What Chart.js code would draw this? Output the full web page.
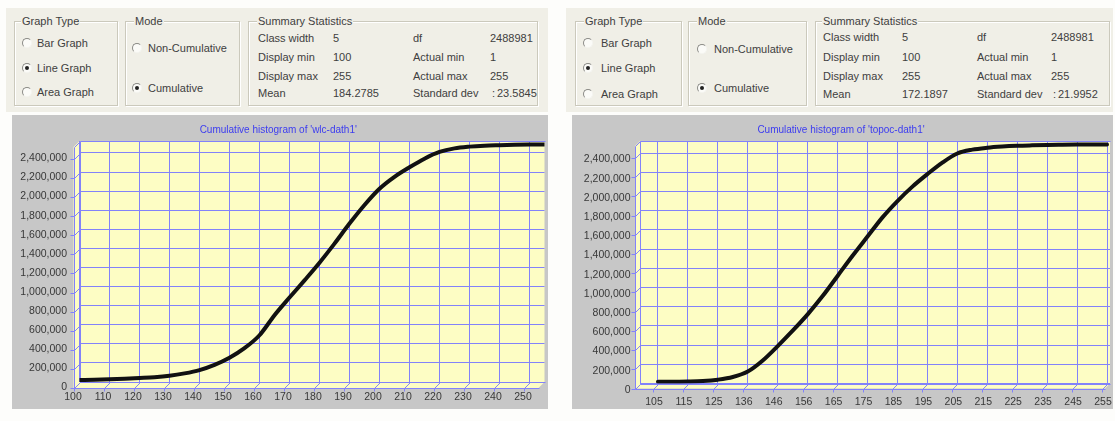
<!DOCTYPE html>
<html>
<head>
<meta charset="utf-8">
<script src="https://cdn.jsdelivr.net/npm/chart.js@4.4.1/dist/chart.umd.min.js"></script>
<style>
  body { margin:0; width:1115px; height:421px; background:#fdfdfb; position:relative; overflow:hidden;
         font-family:"Liberation Sans", Arial, sans-serif; font-size:11px; color:#404040; }
  .panel { position:absolute; top:8px; height:104px; background:#f0efe7; }
  .box { position:absolute; top:21px; height:85px; box-sizing:border-box;
         border:1px solid #cbc9bc; box-shadow: inset 1px 1px 0 #fff, 1px 1px 0 #fff; }
  .t { position:absolute; white-space:nowrap; line-height:13px; }
  .cap { background:#f0efe7; padding:0 1px; }
  .r { position:absolute; width:10px; height:10px; box-sizing:border-box; border-radius:50%;
       border:1px solid; border-color:#8a8a86 #f4f4f0 #f4f4f0 #8a8a86; background:#fbfbf8; }
  .r.on::after { content:""; position:absolute; left:2px; top:2px; width:4px; height:4px; border-radius:50%; background:#222; }
  canvas { position:absolute; }
</style>
</head>
<body>
<canvas id="cLeft" width="536" height="294" style="left:12px;top:115px"></canvas>
<canvas id="cRight" width="541" height="294" style="left:572px;top:115px"></canvas>
<script>
// Cumulative counts per 5-unit class, read at the class values
const leftBins = [100,105,110,115,120,125,130,135,140,145,150,155,160,165,170,175,
                  180,185,190,195,200,205,210,215,220,225,230,235,240,245,250,255];
const leftCumulative = [20000,24000,29000,35000,42000,50000,65000,90000,125000,180000,255000,355000,
                        490000,700000,885000,1065000,1250000,1450000,1660000,1855000,2025000,2150000,
                        2250000,2340000,2410000,2448000,2466000,2476000,2481000,2485000,2487500,2488981];

const rightBins = [105,110,115,120,125,130,135,140,145,150,155,160,165,170,175,180,
                   185,190,195,200,205,210,215,220,225,230,235,240,245,250,255];
const rightCumulative = [18000,19000,21000,26000,40000,68000,125000,240000,390000,550000,720000,910000,
                         1120000,1330000,1530000,1730000,1900000,2050000,2180000,2300000,2395000,2435000,
                         2455000,2467000,2475000,2480000,2484000,2486000,2487500,2488500,2488981];

// Axis ticks and their printed labels
const leftXTicks = [100,110,120,130,140,150,160,170,180,190,200,210,220,230,240,250];
const leftXLabels = ['100','110','120','130','140','150','160','170','180','190','200','210','220','230','240','250'];
const rightXTicks = [105,115,125,135,145,155,165,175,185,195,205,215,225,235,245,255];
const rightXLabels = ['105','115','125','136','146','156','165','175','185','195','205','215','225','235','245','255'];
const yTicks = [0,200000,400000,600000,800000,1000000,1200000,1400000,1600000,1800000,2000000,2200000,2400000];
const yLabels = ['0','200,000','400,000','600,000','800,000','1,000,000','1,200,000','1,400,000',
                 '1,600,000','1,800,000','2,000,000','2,200,000','2,400,000'];

// Summary statistics shown above each chart
const statNames = [['Class width','df'],['Display min','Actual min'],['Display max','Actual max'],['Mean','Standard dev']];
const leftStats = [['5','2488981'],['100','1'],['255','255'],['184.2785','23.5845']];
const rightStats = [['5','2488981'],['100','1'],['255','255'],['172.1897','21.9952']];

// ---- dialog controls ----
function el(cls, x, y, txt) {
  const d = document.createElement('div');
  d.className = cls;
  d.style.left = x + 'px';
  d.style.top = y + 'px';
  if (txt !== undefined) d.textContent = txt;
  document.body.appendChild(d);
  return d;
}
function box(x, w) { const b = el('box', x, 21); b.style.width = w + 'px'; }
function label(x, cy, txt, cap) { el(cap ? 't cap' : 't', x, cy - 6.5, txt); }
function radio(cx, cy, on) { el(on ? 'r on' : 'r', cx - 5, cy - 5); }

function controls(p) {
  const pn = el('panel', p.panel[0], 8); pn.style.width = p.panel[1] + 'px';
  box(p.gt[0], p.gt[1]); box(p.md[0], p.md[1]); box(p.ss[0], p.ss[1]);
  label(p.gtCap, 21.5, 'Graph Type', true);
  label(p.mdCap, 21.5, 'Mode', true);
  label(p.ssCap, 21.5, 'Summary Statistics', true);
  ['Bar Graph','Line Graph','Area Graph'].forEach((t, i) => {
    radio(p.gtRadio, p.gtRows[i], i === 1);
    label(p.gtText, p.gtRows[i], t);
  });
  ['Non-Cumulative','Cumulative'].forEach((t, i) => {
    radio(p.mdRadio, p.mdRows[i], i === 1);
    label(p.mdText, p.mdRows[i], t);
  });
  statNames.forEach((names, i) => {
    const cy = p.ssRows[i];
    label(p.cols[0], cy, names[0]);
    label(p.cols[1], cy, p.stats[i][0]);
    label(p.cols[2], cy, names[1]);
    if (i === 3) { label(p.cols[3] + 2, cy, ':'); label(p.cols[3] + 7, cy, p.stats[i][1]); }
    else label(p.cols[3], cy, p.stats[i][1]);
  });
}

controls({ panel:[6,542], gt:[14,104], md:[125,115], ss:[248,290],
  gtCap:21, mdCap:134, ssCap:257,
  gtRadio:27, gtText:37, gtRows:[43,68,92],
  mdRadio:137, mdText:148, mdRows:[48,88],
  ssRows:[38,57,76,93.5], cols:[258,333,413,490], stats:leftStats });

controls({ panel:[566,547], gt:[575,107], md:[688,119], ss:[815,295],
  gtCap:584, mdCap:697, ssCap:822,
  gtRadio:588, gtText:601, gtRows:[43,68,94],
  mdRadio:702, mdText:714, mdRows:[49,88],
  ssRows:[37,57,76,94], cols:[823,902,977,1051], stats:rightStats });

// ---- charts ----
const GRID = 'rgb(130,130,250)';
const WALL = '#fdfdc4';

// Gray frame, yellow back wall, and the shallow side/floor that give the plot its depth
const depthPlugin = {
  id: 'depth',
  beforeDraw(chart, args, o) {
    const { ctx, chartArea: a, width, height } = chart;
    const d = o.depth;
    ctx.save();
    ctx.fillStyle = '#c7c7c7';
    ctx.fillRect(0, 0, width, height);
    ctx.fillStyle = WALL;
    ctx.fillRect(a.left, a.top, a.width, a.height);
    ctx.beginPath();
    ctx.moveTo(a.left - d, a.top + d);
    ctx.lineTo(a.left, a.top);
    ctx.lineTo(a.left, a.bottom);
    ctx.lineTo(a.right, a.bottom);
    ctx.lineTo(a.right - d, a.bottom + d);
    ctx.lineTo(a.left - d, a.bottom + d);
    ctx.closePath();
    ctx.fill();
    ctx.restore();
  },
  beforeDatasetsDraw(chart, args, o) {
    const { ctx, chartArea: a, scales } = chart;
    const d = o.depth;
    const L = Math.round(a.left) + 0.5, R = Math.round(a.right) + 0.5;
    const T = Math.round(a.top) + 0.5, B = Math.round(a.bottom) + 0.5;
    ctx.save();
    ctx.strokeStyle = GRID;
    ctx.lineWidth = 1;
    ctx.beginPath();
    // back wall outline
    ctx.moveTo(L, B); ctx.lineTo(L, T); ctx.lineTo(R, T);
    ctx.moveTo(L, B); ctx.lineTo(R, B);
    // front edges
    ctx.moveTo(L - d, T + d); ctx.lineTo(L, T);
    ctx.moveTo(L - d, T + d); ctx.lineTo(L - d, B + d); ctx.lineTo(R - d, B + d);
    // grid lines carried across the side wall, plus tick marks
    scales.y.ticks.forEach(t => {
      const py = Math.round(scales.y.getPixelForValue(t.value)) + 0.5;
      ctx.moveTo(L, py); ctx.lineTo(L - d, py + d); ctx.lineTo(L - d - 4, py + d);
    });
    scales.x.ticks.forEach(t => {
      const px = Math.round(scales.x.getPixelForValue(t.value)) + 0.5;
      ctx.moveTo(px, B); ctx.lineTo(px - d, B + d); ctx.lineTo(px - d, B + d + 3);
    });
    ctx.stroke();
    ctx.restore();
  }
};

function makeChart(id, cfg) {
  const fixWidth = w => s => { s.width = w; s.paddingTop = 0; s.paddingBottom = 0; };
  const fixHeight = h => s => { s.height = h; s.paddingLeft = 0; s.paddingRight = 0; };
  return new Chart(document.getElementById(id), {
    type: 'line',
    data: {
      datasets: [{
        data: cfg.bins.map((b, i) => ({ x: b, y: cfg.values[i] })),
        borderColor: '#111',
        borderWidth: 4,
        pointRadius: 0,
        cubicInterpolationMode: 'monotone',
        borderCapStyle: 'round',
        borderJoinStyle: 'round',
        fill: false
      }]
    },
    options: {
      responsive: false,
      animation: false,
      devicePixelRatio: 1,
      layout: { padding: { top: 0, left: 0, bottom: 0, right: cfg.padRight } },
      plugins: {
        legend: { display: false },
        tooltip: { enabled: false },
        title: {
          display: true, text: cfg.title, color: '#3c3cf0',
          font: { family: '"Liberation Sans", Arial, sans-serif', size: 10, weight: 'normal' },
          padding: { top: 9, bottom: 5 }
        },
        depth: { depth: cfg.depth }
      },
      scales: {
        x: {
          type: 'linear', min: cfg.xMin, max: cfg.xMax,
          afterBuildTicks: s => { s.ticks = cfg.xTicks.map(v => ({ value: v })); },
          afterFit: fixHeight(cfg.xHeight),
          grid: { color: GRID, drawTicks: false, lineWidth: 1 },
          border: { display: false },
          ticks: {
            autoSkip: false, maxRotation: 0, padding: cfg.xPad, labelOffset: cfg.xLabelOffset,
            color: '#383838', font: { family: '"Liberation Sans", Arial, sans-serif', size: 10.5 },
            callback: (v, i) => cfg.xLabels[i]
          }
        },
        y: {
          type: 'linear', min: 0, max: 2525000,
          afterBuildTicks: s => { s.ticks = yTicks.map(v => ({ value: v })); },
          afterFit: fixWidth(cfg.yWidth),
          grid: { color: GRID, drawTicks: false, lineWidth: 1 },
          border: { display: false },
          ticks: {
            autoSkip: false, padding: cfg.yPad, labelOffset: cfg.yLabelOffset,
            color: '#383838', font: { family: '"Liberation Sans", Arial, sans-serif', size: 10.5 },
            callback: (v, i) => yLabels[i]
          }
        }
      }
    },
    plugins: [depthPlugin]
  });
}

makeChart('cLeft', {
  bins: leftBins, values: leftCumulative,
  title: "Cumulative histogram of 'wlc-dath1'",
  xMin: 100, xMax: 255, xTicks: leftXTicks, xLabels: leftXLabels,
  yWidth: 67.5, xHeight: 27, padRight: 3.5, depth: 6,
  xPad: 9, xLabelOffset: -6.5, yPad: 12.5, yLabelOffset: 5.5
});

makeChart('cRight', {
  bins: rightBins, values: rightCumulative,
  title: "Cumulative histogram of 'topoc-dath1'",
  xMin: 99, xMax: 256, xTicks: rightXTicks, xLabels: rightXLabels,
  yWidth: 68, xHeight: 25.5, padRight: 3, depth: 5,
  xPad: 12, xLabelOffset: -4, yPad: 9.5, yLabelOffset: 6.5
});
</script>
</body>
</html>
